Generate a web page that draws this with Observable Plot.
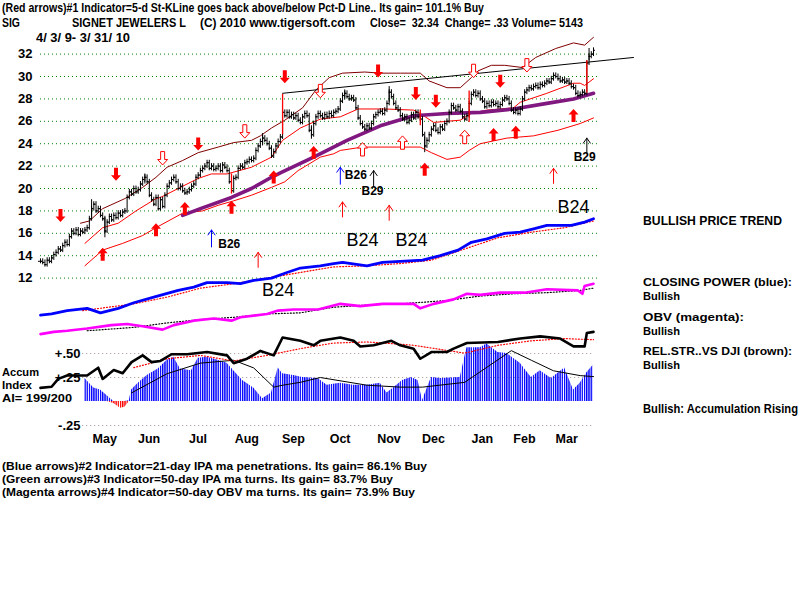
<!DOCTYPE html>
<html><head><meta charset="utf-8">
<script src="https://cdn.jsdelivr.net/npm/d3@7"></script>
<script src="https://cdn.jsdelivr.net/npm/@observablehq/plot@0.6"></script>
<style>
body{margin:0;background:#fff;}
#wrap{position:relative;width:800px;height:600px;overflow:hidden;font-family:"Liberation Sans",Arial,sans-serif;background:#fff;}
#wrap svg{position:absolute;left:0;top:0;}
.t{position:absolute;white-space:pre;font-size:13px;line-height:12px;height:12px;font-weight:bold;color:#000;transform-origin:0 50%;}
</style></head><body><div id="wrap"></div>
<script>
// ---------- DATA ----------
// daily closes, 4/3/09 .. 3/31/10 (250 trading days, index 0..249)
const closes = [
13.5,13.4,13.2,13.6,13.5,13.8,14.1,14.3,14.6,14.5,
14.9,15.2,15.0,15.7,16.2,16.0,16.3,15.9,16.2,16.1,
16.3,16.5,17.3,18.2,18.6,18.0,18.2,17.6,17.3,16.2,
17.0,17.5,17.2,17.6,17.4,17.8,17.6,17.9,18.0,19.2,
19.7,19.5,20.0,19.7,19.9,20.4,20.8,21.0,20.6,19.4,
19.0,18.6,19.2,18.2,19.0,18.4,19.4,20.2,20.5,20.8,
21.0,20.6,20.0,20.2,19.8,19.6,19.7,19.9,20.2,20.4,
21.0,21.2,21.6,21.8,22.0,22.3,21.8,22.0,21.7,21.8,
22.0,21.6,22.1,21.9,21.6,20.6,19.8,20.9,21.0,21.8,
22.0,21.9,22.3,22.4,22.6,22.5,22.7,23.4,23.8,24.2,
24.5,24.3,24.0,23.6,22.9,23.3,23.8,24.2,24.6,26.8,
26.5,26.8,26.4,26.6,26.3,26.5,26.1,25.9,26.4,26.7,
26.5,25.2,24.8,25.8,26.4,26.7,26.5,26.3,26.6,26.4,
26.7,26.5,26.8,26.9,27.1,27.8,28.3,28.5,28.2,28.0,
28.1,27.9,27.2,26.3,25.8,25.5,25.3,25.6,25.4,25.8,
26.4,26.6,26.8,26.9,26.7,27.0,27.6,28.6,28.2,27.6,
27.2,27.0,26.5,26.2,26.4,25.9,26.1,26.6,26.3,26.8,
26.4,26.2,24.8,23.8,24.3,24.8,25.3,25.6,25.2,25.0,
25.5,25.3,25.8,26.0,26.8,27.4,27.2,27.0,27.3,26.9,
26.4,26.2,26.5,27.6,28.4,28.6,28.3,28.5,28.0,27.8,
27.3,27.6,27.4,27.7,27.5,27.6,27.3,27.5,27.9,28.1,
28.0,27.6,27.0,26.8,27.0,26.7,27.1,28.0,28.6,28.8,
29.0,28.9,29.1,29.2,29.0,29.3,29.2,29.4,29.6,29.5,
29.8,30.1,30.0,29.8,29.6,29.7,29.5,29.6,29.4,29.1,
29.0,28.5,28.3,28.4,28.6,28.5,31.2,31.8,32.0,32.34];

// long bars with their own high / low  [index, low, high]
const wideBars = [[23,17.4,19.0],[29,15.6,17.4],[47,20.4,21.3],[100,23.8,24.9],[122,24.4,25.6],[137,27.9,28.8],[157,27.7,29.1],[173,23.2,24.6],[247,31.4,32.5]];
const redBars  = [[86,19.5,21.3],[109,24.8,28.4],[171,25.6,27.0],[193,25.9,28.7],[246,28.5,31.4]];

// price bands  [index, level]
const upperBand = [[18,16.9],[22,17.1],[28,18.2],[38,19.1],[46,20.1],[52,21.0],[57,21.9],[64,22.5],[71,23.2],[80,23.7],[87,24.1],[95,24.3],[99,24.7],[104,25.4],[110,26.1],[118,27.2],[124,28.8],[130,29.9],[136,30.3],[146,30.4],[153,30.3],[162,30.3],[171,30.3],[175,29.6],[183,29.0],[189,29.0],[194,29.9],[197,30.5],[203,31.0],[209,31.0],[217,30.8],[223,31.7],[232,32.5],[240,33.0],[245,32.8],[249,33.5]];
const middleBand = [[20,15.1],[28,16.5],[35,16.9],[43,18.0],[52,19.1],[54,19.2],[62,20.0],[71,20.9],[77,21.3],[84,21.3],[95,21.9],[104,22.8],[109,24.3],[117,25.4],[126,26.2],[135,26.4],[143,27.1],[155,27.1],[168,27.0],[171,26.7],[177,25.9],[189,26.1],[194,26.7],[201,27.0],[213,27.2],[216,27.7],[228,28.5],[240,29.4],[243,29.4],[245,29.2],[249,29.8]];
const lowerBand = [[20,13.1],[28,14.5],[37,15.1],[46,15.8],[52,16.5],[64,17.8],[73,18.0],[80,18.5],[87,18.9],[95,19.4],[104,20.1],[110,20.6],[116,21.6],[126,22.8],[132,23.1],[135,23.4],[145,23.7],[161,23.7],[171,23.7],[176,23.2],[183,22.6],[189,22.8],[193,23.4],[198,24.0],[210,24.5],[222,24.7],[233,25.2],[243,25.8],[249,26.3]];
const ma50 = [[64,17.6],[72,18.2],[86,19.2],[95,20.0],[104,21.0],[108,21.4],[123,22.8],[138,24.3],[153,25.6],[168,26.5],[183,26.7],[198,26.8],[213,27.1],[228,27.6],[240,28.0],[249,28.5]];
const trendLine = [[109,28.5],[267,31.7]];

// lower indicators, read against the left scale
const closingPower = [[0,8.7],[5,8.8],[12,9.1],[21,9.3],[27,8.9],[35,9.3],[42,9.8],[51,10.3],[62,10.9],[69,11.2],[75,11.6],[84,11.6],[90,11.5],[96,11.8],[104,12.0],[111,12.5],[117,12.9],[126,13.1],[132,13.3],[136,13.4],[147,13.1],[154,13.4],[162,13.5],[172,13.6],[180,14.0],[188,14.5],[194,15.2],[201,15.5],[209,16.0],[216,16.1],[222,16.4],[228,16.7],[239,16.7],[245,17.0],[249,17.3]];
const closingPowerMA = [[19,9.1],[42,9.7],[57,10.3],[72,11.1],[87,11.5],[102,12.0],[117,12.5],[132,13.0],[147,13.1],[162,13.3],[176,13.6],[191,14.6],[206,15.6],[221,16.1],[236,16.5],[249,17.1]];
const obv = [[0,7.0],[6,7.2],[12,7.3],[21,7.5],[32,7.8],[39,7.9],[46,7.7],[55,7.4],[60,7.8],[69,8.2],[78,8.4],[86,8.2],[90,8.5],[102,8.8],[107,9.1],[114,9.2],[125,9.2],[135,9.7],[144,9.5],[154,9.7],[168,9.7],[171,9.3],[177,9.7],[186,10.1],[192,10.6],[198,10.5],[207,10.7],[218,10.7],[228,11.0],[242,10.9],[244,10.6],[245,11.3],[249,11.5]];
const obvMA = [[21,7.3],[42,7.6],[57,8.0],[72,8.3],[87,8.5],[102,8.8],[117,8.9],[132,9.4],[147,9.6],[162,9.7],[183,10.0],[198,10.4],[213,10.6],[228,10.7],[243,10.9],[249,11.1]];
const relStrength = [[0,2.2],[5,2.3],[8,3.0],[12,3.3],[21,3.3],[26,4.0],[28,3.0],[33,3.8],[37,3.5],[41,4.5],[46,5.1],[50,4.5],[54,4.6],[59,5.2],[66,5.2],[75,5.4],[84,5.1],[87,4.4],[93,4.8],[99,5.5],[105,5.1],[109,6.7],[117,6.4],[123,6.0],[126,6.4],[135,6.7],[141,6.4],[144,5.9],[150,6.0],[158,6.4],[162,6.0],[168,5.7],[171,4.8],[176,5.4],[183,5.4],[186,5.7],[192,6.2],[206,6.3],[216,6.6],[225,6.8],[234,6.6],[240,5.9],[245,5.9],[246,7.1],[249,7.2]];
const relStrengthMA = [[42,4.0],[57,4.8],[72,5.1],[87,4.6],[102,5.1],[117,5.7],[132,6.2],[147,6.3],[162,6.1],[168,6.0],[191,5.3],[206,6.0],[221,6.4],[236,6.6],[249,6.5]];

// accumulation index (own units)
const accumIndex = [[20,0.24],[24,0.14],[27,0.12],[30,0.06],[33,-0.02],[36,-0.07],[38,-0.06],[40,0.01],[41,0.12],[44,0.19],[48,0.27],[53,0.34],[57,0.43],[60,0.46],[63,0.34],[68,0.32],[71,0.45],[75,0.46],[80,0.43],[84,0.40],[87,0.32],[91,0.22],[96,0.14],[100,0.03],[104,0.09],[107,0.35],[109,0.29],[114,0.27],[118,0.25],[125,0.24],[129,0.17],[135,0.19],[141,0.17],[147,0.17],[153,0.19],[156,0.09],[159,0.14],[163,0.22],[167,0.25],[170,0.22],[172,0.01],[176,0.25],[180,0.24],[189,0.25],[192,0.56],[198,0.56],[201,0.60],[206,0.51],[210,0.50],[216,0.40],[221,0.25],[225,0.32],[230,0.24],[236,0.35],[240,0.12],[243,0.19],[246,0.30],[249,0.38]];
const accumIndexMA = [[41,0.09],[57,0.29],[72,0.40],[87,0.43],[96,0.35],[105,0.15],[109,0.17],[117,0.20],[126,0.25],[147,0.17],[162,0.15],[172,0.15],[191,0.20],[212,0.53],[221,0.43],[231,0.32],[243,0.27],[249,0.26]];

// signal arrows [index, tip level]
const redDownArrows = [[9,17.0],[34,20.7],[71,23.4],[110,29.4],[152,29.9],[169,27.9],[178,27.2],[207,29.0]];
const redDownHollow = [[55,22.1],[92,24.5],[126,28.1],[195,29.9],[219,30.4]];
const redUpArrows = [[28,14.7],[52,16.9],[65,18.8],[86,18.9],[105,21.6],[123,23.8],[173,22.3],[204,25.4],[214,25.6],[240,27.1]];
const redUpHollow = [[145,24.1],[163,24.7],[191,25.2]];
const thinRedUp = [[98,14.3],[136,18.8],[157,18.5],[231,21.8]];
const blueUp = [[77,16.3],[135,21.9]];
const blackUp = [[150,21.6],[246,24.5]];
const smallSignals = [["B26",85,15.0],["B26",142,21.15],["B29",149.5,19.75],["B29",245,22.8]];
const bigSignals = [["B24",107,10.9],["B24",145,15.35],["B24",167,15.35],["B24",240,18.3]];

// ticks
const priceTicks = [12,14,16,18,20,22,24,26,28,30,32];
const monthNames = ["May","Jun","Jul","Aug","Sep","Oct","Nov","Dec","Jan","Feb","Mar"];
const monthStartIdx = [19,39,61,83,104,125,147,167,189,208,227];
const aiTicks = [0.5,0.25,-0.25];
const aiTickLabels = ["+.50","+.25","-.25"];

// ---------- BUILD ----------
const AI_ZERO = 0.98, AI_UNIT = 8.57;          // accumulation panel placement on the shared axis
const aiLevel = v => AI_ZERO + v * AI_UNIT;
const BAR_PAD = 0.22;
const pts = a => a.map(([i, v]) => ({i, v}));
const bars = closes.map((c, i) => { const prev = i ? closes[i-1] : c; return {i, c, prev, lo: Math.min(prev, c), hi: Math.max(prev, c)}; });
const ai = pts(accumIndex);

const solidArrow = {draw(ctx, l) {
  const h = 5.5, w = 5, s = 2;
  ctx.moveTo(-s, 0); ctx.lineTo(-s, -(l - h)); ctx.lineTo(-w, -(l - h)); ctx.lineTo(0, -l);
  ctx.lineTo(w, -(l - h)); ctx.lineTo(s, -(l - h)); ctx.lineTo(s, 0); ctx.closePath();
}};
const thinArrow = {draw(ctx, l) {
  ctx.moveTo(0, 0); ctx.lineTo(0, -l); ctx.moveTo(-3.5, -l + 5); ctx.lineTo(0, -l); ctx.lineTo(3.5, -l + 5);
}};
const vec = (arr, o) => Plot.vector(arr, {x: d => d[0], y: d => d[1], anchor: "end", ...o});
const ln = (arr, o) => Plot.line(pts(arr), {x: "i", y: "v", ...o});

const plot = Plot.plot({
  width: 800, height: 600,
  marginLeft: 36, marginRight: 0, marginTop: 0, marginBottom: 170,
  x: {domain: [-1.8, 342.2]},
  y: {domain: [-1.607, 36.786]},
  style: {fontFamily: "'Liberation Sans', Arial, sans-serif", background: "transparent", overflow: "visible", color: "#000"},
  marks: [
    Plot.ruleY(priceTicks, {x1: 0, x2: 252, stroke: "#008000", strokeDasharray: "1,3"}),
    Plot.ruleY(aiTicks, {y: aiLevel, x1: 19, x2: 249, stroke: "#a09090", strokeDasharray: "1,3"}),
    Plot.areaY(ai, {x: "i", y1: () => aiLevel(0), y2: d => aiLevel(Math.max(0, d.v)), fill: "url(#aiBlue)"}),
    Plot.areaY(ai, {x: "i", y1: () => aiLevel(0), y2: d => aiLevel(Math.min(0, d.v)), fill: "url(#aiRed)"}),
    Plot.line(pts(accumIndexMA), {x: "i", y: d => aiLevel(d.v), stroke: "#000", strokeWidth: 1}),
    ln(relStrengthMA, {stroke: "#ff0000", strokeWidth: 1.2, strokeDasharray: "1,2"}),
    ln(relStrength, {stroke: "#000", strokeWidth: 2.6}),
    ln(obvMA, {stroke: "#000", strokeWidth: 1.2, strokeDasharray: "1,2"}),
    ln(obv, {stroke: "#ff00ff", strokeWidth: 2.6}),
    ln(closingPowerMA, {stroke: "#ff0000", strokeWidth: 1.2, strokeDasharray: "1,2"}),
    ln(closingPower, {stroke: "#0000ff", strokeWidth: 2.8}),
    ln(lowerBand, {stroke: "#ff0000", strokeWidth: 1}),
    ln(middleBand, {stroke: "#ff0000", strokeWidth: 1}),
    ln(upperBand, {stroke: "#800000", strokeWidth: 1}),
    ln(ma50, {stroke: "#801880", strokeWidth: 3.6}),
    ln(trendLine, {stroke: "#000", strokeWidth: 1}),
    Plot.ruleX(bars, {x: "i", y1: d => d.lo - BAR_PAD, y2: d => d.hi + BAR_PAD, stroke: "#000", strokeWidth: 1}),
    Plot.ruleY(bars, {y: "c", x1: "i", x2: d => d.i + 0.9, stroke: "#000", strokeWidth: 1}),
    Plot.ruleY(bars, {y: "prev", x1: d => d.i - 0.9, x2: "i", stroke: "#000", strokeWidth: 1}),
    Plot.ruleX(wideBars, {x: d => d[0], y1: d => d[1], y2: d => d[2], stroke: "#000", strokeWidth: 1}),
    Plot.ruleX(redBars, {x: d => d[0], y1: d => d[1], y2: d => d[2], stroke: "#ff0000", strokeWidth: 1.3}),
    vec(redDownArrows, {length: 13, rotate: 180, shape: solidArrow, fill: "#ff0000", stroke: "none"}),
    vec(redDownHollow, {length: 13, rotate: 180, shape: solidArrow, fill: "#fff", stroke: "#ff0000", strokeWidth: 1}),
    vec(redUpArrows, {length: 13, rotate: 0, shape: solidArrow, fill: "#ff0000", stroke: "none"}),
    vec(redUpHollow, {length: 13, rotate: 0, shape: solidArrow, fill: "#fff", stroke: "#ff0000", strokeWidth: 1}),
    vec(thinRedUp, {length: 15, rotate: 0, shape: thinArrow, stroke: "#ff0000", strokeWidth: 1, fill: "none"}),
    vec(blueUp, {length: 17, rotate: 0, shape: thinArrow, stroke: "#0000ff", strokeWidth: 1, fill: "none"}),
    vec(blackUp, {length: 15, rotate: 0, shape: thinArrow, stroke: "#000", strokeWidth: 1, fill: "none"}),
    Plot.text(smallSignals, {x: d => d[1], y: d => d[2], text: d => d[0], fontSize: 12, fontWeight: "bold", fill: "#000"}),
    Plot.text(bigSignals, {x: d => d[1], y: d => d[2], text: d => d[0], fontSize: 18, fill: "#000"}),
    Plot.axisY(priceTicks, {anchor: "left", tickSize: 0, tickPadding: 4, fontSize: 13, fontWeight: "bold", label: null, fill: "#000"}),
    Plot.axisX(monthStartIdx, {anchor: "bottom", tickSize: 0, tickPadding: 4, dx: 22, fontSize: 12.5, fontWeight: "bold", label: null, fill: "#000",
      tickFormat: d => monthNames[monthStartIdx.indexOf(d)]}),
    Plot.text(aiTicks, {y: aiLevel, frameAnchor: "left", dx: 44, text: (d, i) => aiTickLabels[i], textAnchor: "end", fontSize: 13, fontWeight: "bold", fill: "#000"})
  ]
});

// stripe patterns for the accumulation bars
const NS = "http://www.w3.org/2000/svg";
const defs = document.createElementNS(NS, "defs");
[["aiBlue", "#0000ff"], ["aiRed", "#ff0000"]].forEach(([id, col]) => {
  const p = document.createElementNS(NS, "pattern");
  p.setAttribute("id", id); p.setAttribute("patternUnits", "userSpaceOnUse");
  p.setAttribute("width", "2.22"); p.setAttribute("height", "4");
  const r = document.createElementNS(NS, "rect");
  r.setAttribute("width", "1.35"); r.setAttribute("height", "4"); r.setAttribute("fill", col);
  p.appendChild(r); defs.appendChild(p);
});
plot.insertBefore(defs, plot.firstChild);

const wrap = document.getElementById("wrap");
wrap.appendChild(plot);

// ---------- TEXT (title, legend, notes) ----------
// [text, left, vertical centre, width, vertical squeeze]
const notes = [
  ["(Red arrows)#1 Indicator=5-d St-KLine goes back above/below Pct-D Line.. Its gain= 101.1% Buy", 2, 8, 482, 0.95],
  ["SIG", 2, 23, 18, 0.95],
  ["SIGNET JEWELERS L", 72, 23, 114, 0.95],
  ["(C) 2010 www.tigersoft.com", 200, 23, 155, 0.95],
  ["Close=  32.34  Change= .33 Volume= 5143", 370, 23, 213, 0.95],
  ["4/ 3/ 9- 3/ 31/ 10", 36, 38, 94, 0.95],
  ["BULLISH PRICE TREND", 643, 221, 139, 0.95],
  ["CLOSING POWER (blue):", 643, 283, 149, 0.82],
  ["Bullish", 643, 297, 37, 0.82],
  ["OBV (magenta):", 643, 318, 101, 0.82],
  ["Bullish", 643, 332, 37, 0.82],
  ["REL.STR..VS DJI (brown):", 643, 352, 149, 0.82],
  ["Bullish", 643, 366, 37, 0.82],
  ["Bullish: Accumulation Rising", 643, 409, 155, 0.95],
  ["Accum", 2, 373, 37, 0.82],
  ["Index", 2, 386, 30, 0.82],
  ["AI= 199/200", 2, 399, 70, 0.82],
  ["(Blue arrows)#2 Indicator=21-day IPA ma penetrations. Its gain= 86.1% Buy", 2, 467, 425, 0.82],
  ["(Green arrows)#3 Indicator=50-day IPA ma turns. Its gain= 83.7% Buy", 2, 480, 391, 0.82],
  ["(Magenta arrows)#4 Indicator=50-day OBV ma turns. Its gain= 73.9% Buy", 2, 493, 413, 0.82]
];
notes.forEach(([txt, x, yc, w, sy]) => {
  const el = document.createElement("div");
  el.className = "t"; el.textContent = txt;
  el.style.left = x + "px"; el.style.top = (yc - 6) + "px";
  wrap.appendChild(el);
  const nat = el.getBoundingClientRect().width;
  if (nat > 0) el.style.transform = `scale(${w / nat}, ${sy})`;
});
</script></body></html>
